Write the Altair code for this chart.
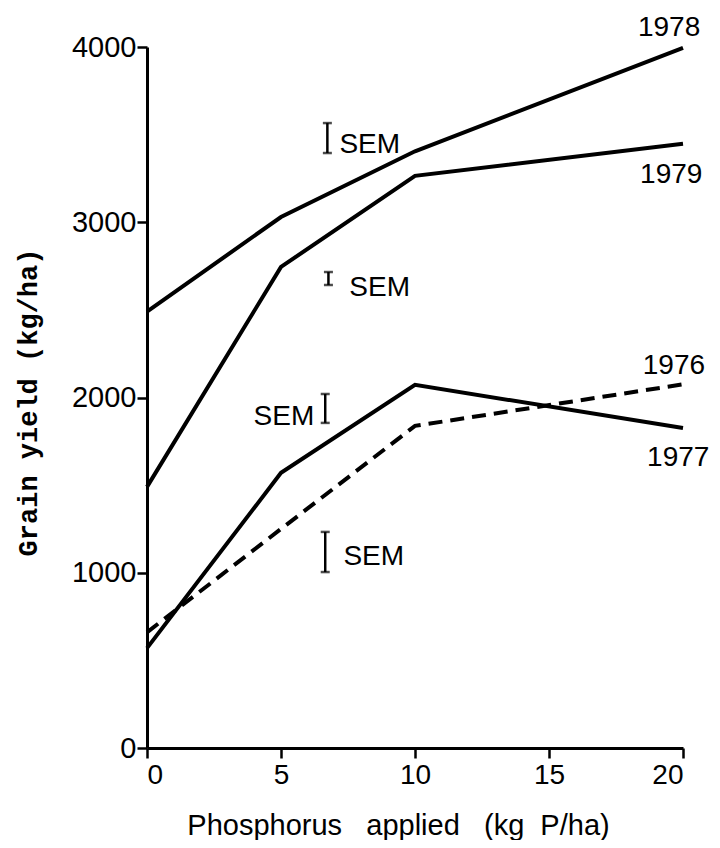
import altair as alt
import pandas as pd

# ---- data ----
phosphorus = [0, 5, 10, 20]
yield_1976 = [660, 1250, 1838, 2075]
yield_1977 = [570, 1570, 2072, 1826]
yield_1978 = [2490, 3030, 3405, 3995]
yield_1979 = [1490, 2745, 3265, 3448]

sem_x = [6.73, 6.77, 6.65, 6.65]
sem_low = [3395, 2642, 1855, 1004]
sem_high = [3566, 2716, 2020, 1233]

year_labels = ["1978", "1979", "1976", "1977"]
year_label_x = [18.32, 18.4, 18.5, 18.66]
year_label_y = [4063, 3224, 2134, 1609]

sem_text = ["SEM", "SEM", "SEM", "SEM"]
sem_label_x = [7.18, 7.55, 6.24, 7.33]
sem_label_y = [3395, 2579, 1843, 1044]
sem_label_side = ["left", "left", "right", "left"]

x_ticks = [0, 5, 10, 15, 20]
y_ticks = [0, 1000, 2000, 3000, 4000]

# ---- tables ----
rows = []
for yr, vals in [("1976", yield_1976), ("1977", yield_1977), ("1978", yield_1978), ("1979", yield_1979)]:
    for p, v in zip(phosphorus, vals):
        rows.append({"x": p, "y": v, "year": yr})
lines_df = pd.DataFrame(rows)
solid_df = lines_df[lines_df.year != "1976"]
dashed_df = lines_df[lines_df.year == "1976"]

sem_df = pd.DataFrame({"x": sem_x, "y": sem_low, "y2": sem_high})
sem_caps = pd.DataFrame({"x": sem_x + sem_x, "y": sem_low + sem_high})
years_df = pd.DataFrame({"x": year_label_x, "y": year_label_y, "t": year_labels})
semlab_df = pd.DataFrame({"x": sem_label_x, "y": sem_label_y, "t": sem_text, "side": sem_label_side})

FONT = "Liberation Sans"
NB = "\u00a0"

X = alt.X(
    "x:Q",
    scale=alt.Scale(domain=[0, 20], nice=False),
    axis=alt.Axis(
        values=x_ticks,
        title="Phosphorus" + NB * 3 + "applied" + NB * 3 + "(kg" + NB * 2 + "P/ha)",
        titleFont=FONT, titleFontSize=29, titleFontWeight="normal",
        titleX=251, titleY=86, titleBaseline="alphabetic", titleAlign="center",
        labelPadding=3,
    ),
)
Y = alt.Y(
    "y:Q",
    scale=alt.Scale(domain=[0, 4000], nice=False),
    axis=alt.Axis(
        values=y_ticks, format="d",
        title="Grain yield (kg/ha)",
        titleFont="Liberation Mono", titleFontSize=27, titleFontWeight="bold",
        titleAngle=270, titleX=-119, titleY=355, titleBaseline="middle", titleAlign="center",
        labelPadding=1, labelFontSize=29,
    ),
)

solid = alt.Chart(solid_df).mark_line(color="black", strokeWidth=4).encode(x=X, y=Y, detail="year:N")
dashed = alt.Chart(dashed_df).mark_line(color="black", strokeWidth=4, strokeDash=[14, 8]).encode(x=X, y=Y)
sem_bar = alt.Chart(sem_df).mark_rule(color="black", strokeWidth=2.5).encode(x=X, y=Y, y2="y2:Q")
sem_cap = alt.Chart(sem_caps).mark_tick(color="black", orient="horizontal", size=9, thickness=2.5).encode(x=X, y=Y)
year_text = alt.Chart(years_df).mark_text(
    font=FONT, fontSize=28, align="left", baseline="alphabetic", color="black"
).encode(x=X, y=Y, text="t:N")
sem_left = alt.Chart(semlab_df[semlab_df.side == "left"]).mark_text(
    font=FONT, fontSize=28, align="left", baseline="alphabetic", color="black"
).encode(x=X, y=Y, text="t:N")
sem_right = alt.Chart(semlab_df[semlab_df.side == "right"]).mark_text(
    font=FONT, fontSize=28, align="right", baseline="alphabetic", color="black"
).encode(x=X, y=Y, text="t:N")

chart = alt.layer(solid, dashed, sem_bar, sem_cap, year_text, sem_left, sem_right).properties(
    width=536, height=701,
    autosize=alt.AutoSizeParams(type="none"),
    padding={"left": 139, "top": 39, "right": 29, "bottom": 92},
    background="white",
).configure_view(stroke=None).configure_axis(
    domainColor="black", domainWidth=3, tickColor="black", tickWidth=2.5, tickSize=10,
    labelFont=FONT, labelFontSize=28, labelColor="black", titleColor="black", grid=False,
)

chart.save("out.html", embed_options={"renderer": "svg", "actions": False})
